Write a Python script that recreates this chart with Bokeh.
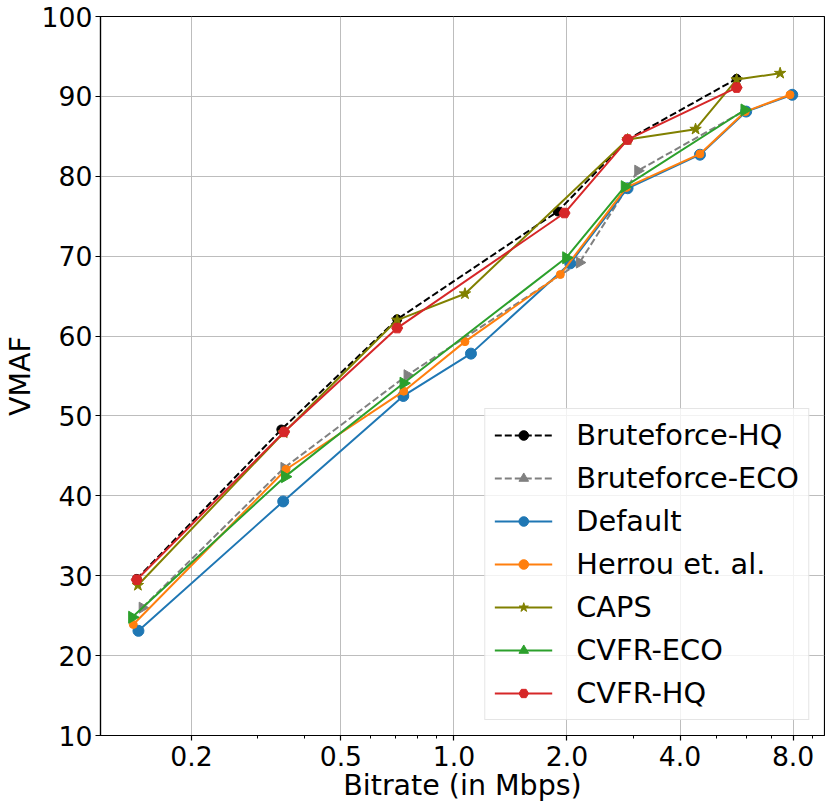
import numpy as np
from bokeh.plotting import figure
from bokeh.models import FixedTicker, Range1d
from bokeh.embed import file_html
from bokeh.resources import INLINE

# ---------------- data ----------------
bf_hq_x = [0.143, 0.347, 0.706, 1.89, 2.90, 5.66]
bf_hq_y = [29.6, 48.3, 62.1, 75.6, 84.6, 92.2]

bf_eco_x = [0.148, 0.353, 0.751, 2.16, 3.09, 5.94]
bf_eco_y = [26.0, 43.5, 55.1, 69.2, 80.7, 88.2]

default_x = [0.1445, 0.351, 0.733, 1.11, 2.04, 2.90, 4.52, 6.00, 7.96]
default_y = [23.1, 39.3, 52.5, 57.8, 69.1, 78.5, 82.7, 88.1, 90.2]

herrou_x = [0.140, 0.357, 0.735, 1.07, 1.92, 2.88, 4.52, 5.97, 7.85]
herrou_y = [23.9, 43.3, 53.1, 59.3, 67.7, 78.6, 82.8, 88.1, 90.2]

caps_x = [0.144, 0.352, 0.706, 1.07, 2.90, 4.40, 5.66, 7.39]
caps_y = [28.8, 47.9, 62.0, 65.3, 84.6, 85.9, 92.1, 92.9]

cvfr_eco_x = [0.139, 0.355, 0.734, 1.99, 2.85, 5.94]
cvfr_eco_y = [24.8, 42.4, 54.1, 69.8, 78.7, 88.3]

cvfr_hq_x = [0.143, 0.353, 0.706, 1.97, 2.90, 5.66]
cvfr_hq_y = [29.5, 48.0, 61.0, 75.4, 84.6, 91.1]

x_ticks = [0.2, 0.5, 1.0, 2.0, 4.0, 8.0]
x_tick_labels = ["0.2", "0.5", "1.0", "2.0", "4.0", "8.0"]
x_minor_ticks = [0.3, 0.4, 0.6, 0.7, 0.8, 0.9, 3.0, 5.0, 6.0, 7.0, 9.0]
y_ticks = [10, 20, 30, 40, 50, 60, 70, 80, 90, 100]

FONT = "DejaVu Sans"

p = figure(
    x_axis_type="log",
    x_range=Range1d(0.1145, 9.7),
    y_range=Range1d(10, 100),
    frame_width=724, frame_height=719,
    min_border_left=91, min_border_top=16, min_border_right=1, min_border_bottom=0,
    output_backend="svg", toolbar_location=None,
    background_fill_color="white", border_fill_color="white",
)
p.outline_line_color = "black"
p.outline_line_width = 1.2

p.xaxis.ticker = FixedTicker(ticks=x_ticks, minor_ticks=x_minor_ticks)
p.xaxis.major_label_overrides = {t: l for t, l in zip(x_ticks, x_tick_labels)}
p.yaxis.ticker = FixedTicker(ticks=y_ticks, minor_ticks=[])

for ax in (p.xaxis, p.yaxis):
    ax.major_label_text_font = FONT
    ax.major_label_text_font_size = "26.67px"
    ax.major_label_text_color = "black"
    ax.axis_label_text_font = FONT
    ax.axis_label_text_font_size = "28.5px"
    ax.axis_label_text_font_style = "normal"
    ax.axis_label_text_color = "black"
    ax.axis_line_color = "black"
    ax.axis_line_width = 1.2
    ax.major_tick_line_color = "black"
    ax.major_tick_line_width = 1.2
    ax.major_tick_out = 5
    ax.major_tick_in = 0
    ax.minor_tick_line_color = "black"
    ax.minor_tick_out = 3
    ax.minor_tick_in = 0
p.xaxis.major_label_standoff = 5
p.xaxis.axis_label_standoff = 0
p.yaxis.major_label_standoff = 3
p.yaxis.axis_label_standoff = 2
p.yaxis.minor_tick_line_color = None
p.xaxis.axis_label = "Bitrate (in Mbps)"
p.yaxis.axis_label = "VMAF"

p.xgrid.grid_line_color = "#bdbdbd"
p.ygrid.grid_line_color = "#bdbdbd"
p.xgrid.grid_line_width = 1
p.ygrid.grid_line_width = 1

series = [
    ("Bruteforce-HQ", bf_hq_x, bf_hq_y, "black", "7 3", "circle", 9, 0.0),
    ("Bruteforce-ECO", bf_eco_x, bf_eco_y, "#808080", "7 3", "triangle", 11, -np.pi / 2),
    ("Default", default_x, default_y, "#1f77b4", "solid", "circle", 11, 0.0),
    ("Herrou et. al.", herrou_x, herrou_y, "#ff7f0e", "solid", "circle", 8, 0.0),
    ("CAPS", caps_x, caps_y, "#808000", "solid", "star", 12, 0.0),
    ("CVFR-ECO", cvfr_eco_x, cvfr_eco_y, "#2ca02c", "solid", "triangle", 12, -np.pi / 2),
    ("CVFR-HQ", cvfr_hq_x, cvfr_hq_y, "#d62728", "solid", "hex", 11, 0.0),
]

for name, xs, ys, color, dash, marker, size, angle in series:
    p.line(xs, ys, line_color=color, line_width=2, line_dash=dash, legend_label=name)
    p.scatter(xs, ys, marker=marker, size=size, angle=angle,
              fill_color=color, line_color=color, legend_label=name)

lg = p.legend[0]
lg.location = "bottom_right"
lg.margin = 15
lg.padding = 9
lg.spacing = 9
lg.glyph_width = 58
lg.glyph_height = 24
lg.label_height = 34
lg.label_standoff = 24
lg.label_text_font = FONT
lg.label_text_font_size = "28.8px"
lg.label_text_color = "black"
lg.border_line_color = "#cccccc"
lg.border_line_width = 1
lg.background_fill_color = "white"
lg.background_fill_alpha = 0.8

open("out.html", "w").write(file_html(p, INLINE))
